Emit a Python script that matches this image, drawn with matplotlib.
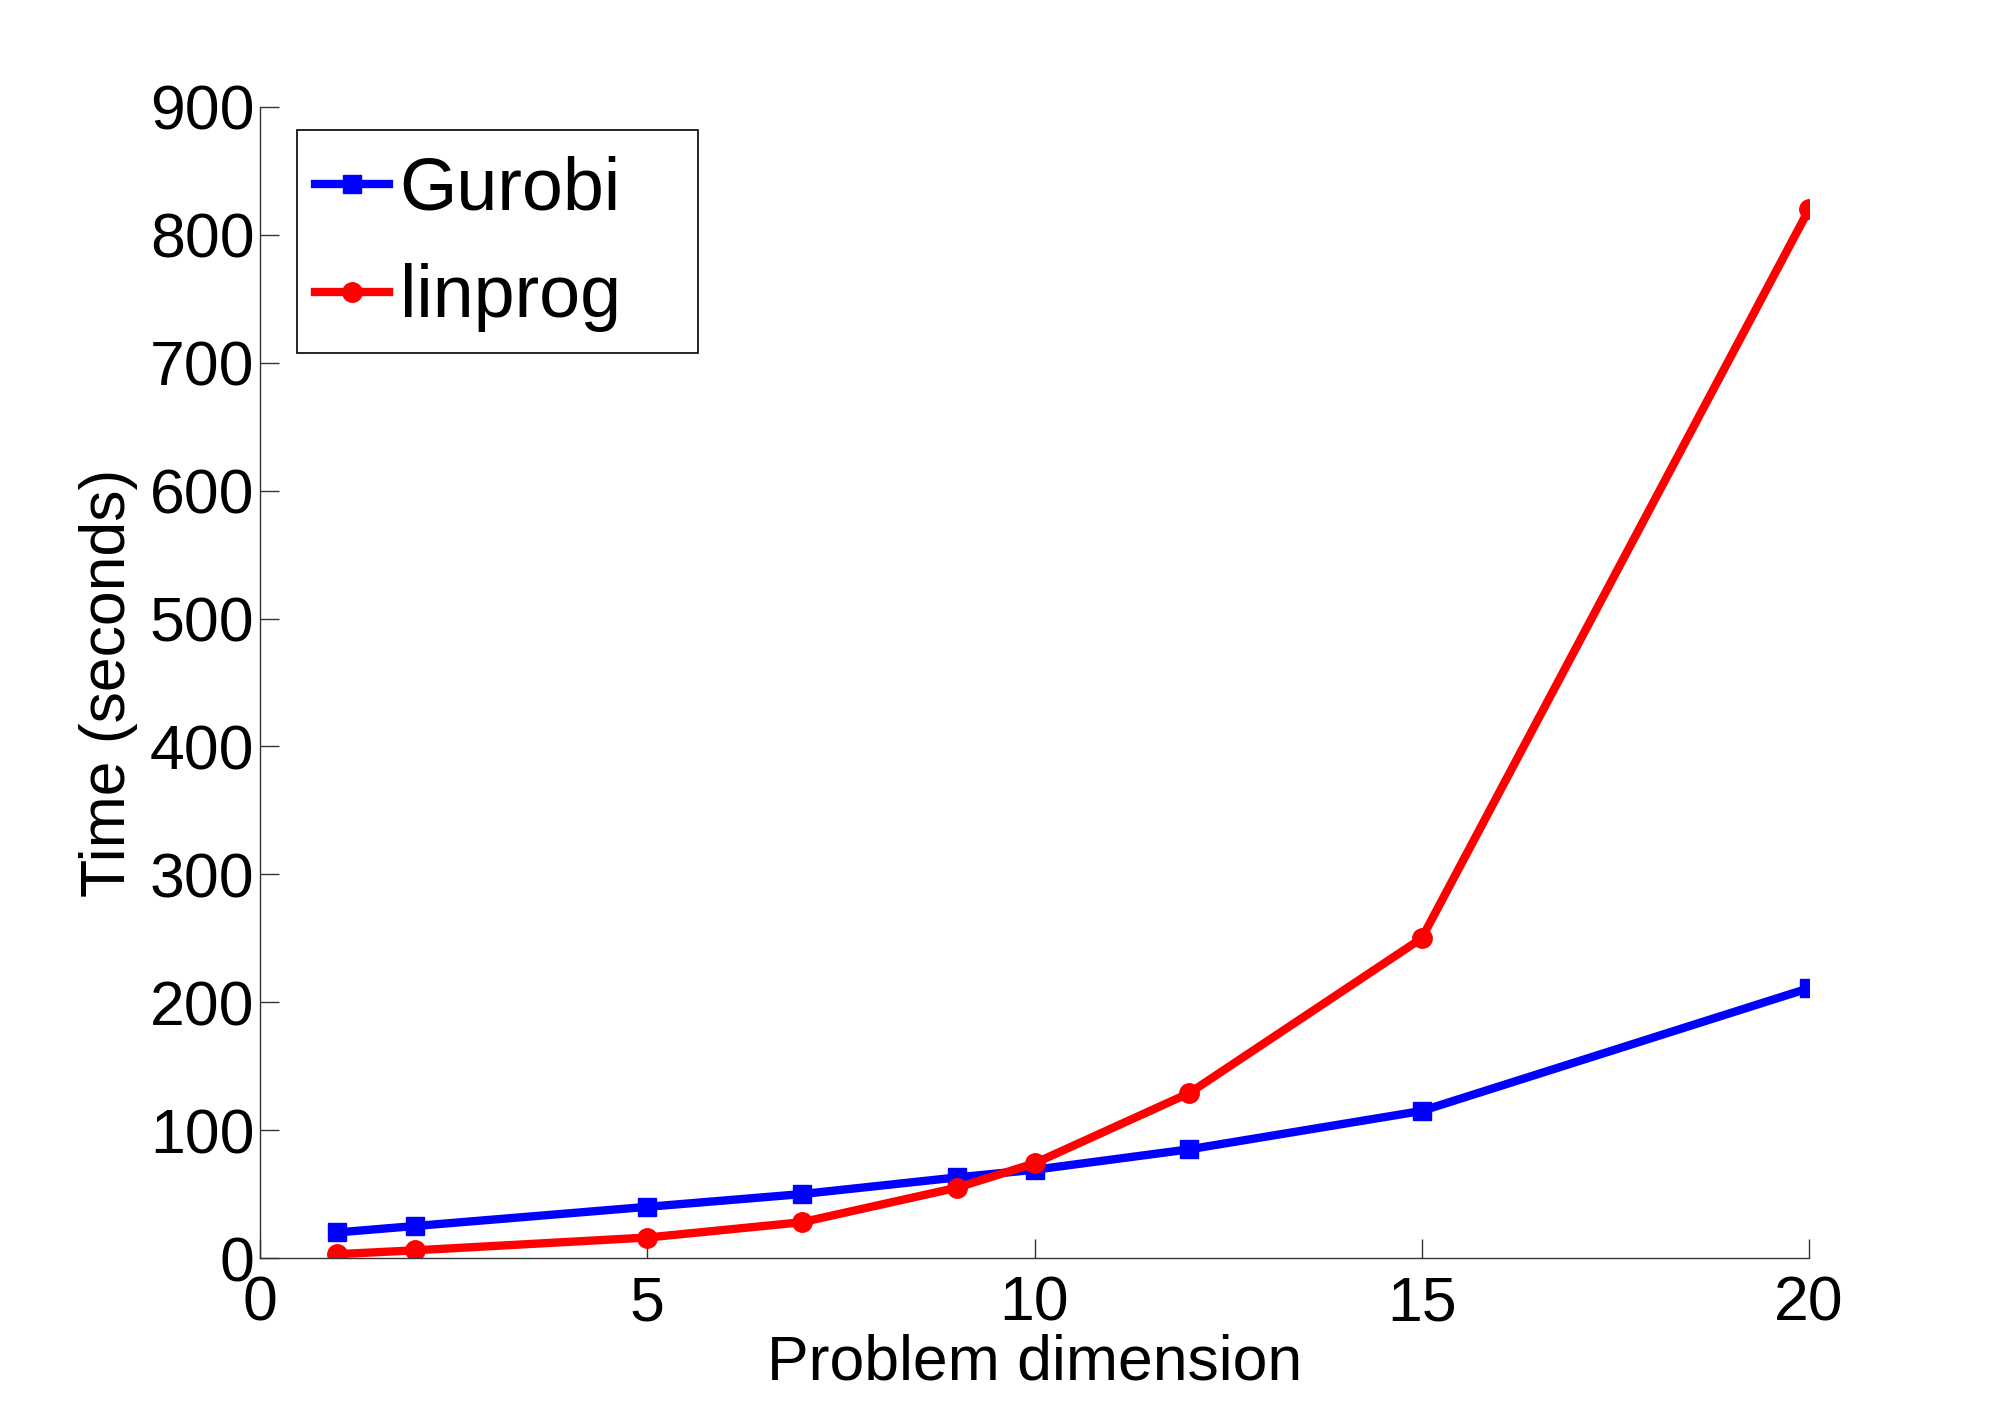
import matplotlib
matplotlib.use('Agg')
import matplotlib.pyplot as plt
from matplotlib.patches import Rectangle

# Problem dimensions and solve times (seconds)
dims = [1, 2, 5, 7, 9, 10, 12, 15, 20]
gurobi = [20, 25, 40, 50, 63, 69, 85, 115, 211]
linprog = [3, 6, 16, 28, 55, 74, 129, 250, 820]

x_ticks = [0, 5, 10, 15, 20]
y_ticks = list(range(0, 1000, 100))

plt.rcParams['font.family'] = ['Liberation Sans', 'DejaVu Sans']

fig = plt.figure(figsize=(20, 14.15), dpi=100)
ax = fig.add_axes([260 / 2000, 1 - 1258 / 1415, (1809 - 260) / 2000, (1258 - 107) / 1415])

ax.plot(dims, gurobi, color='#0000ff', lw=6, marker='s', ms=12.5, label='Gurobi')
ax.plot(dims, linprog, color='#ff0000', lw=6, marker='o', ms=14, label='linprog')

ax.set_xlim(0, 20)
ax.set_ylim(0, 900)
ax.set_xticks(x_ticks)
ax.set_yticks(y_ticks)
ax.tick_params(direction='in', length=14, width=1, labelsize=45, color='#333333')
ax.tick_params(axis='x', pad=12)
ax.tick_params(axis='y', pad=4)

# box off: only left and bottom axis lines
ax.spines['top'].set_visible(False)
ax.spines['right'].set_visible(False)
for s in ['left', 'bottom']:
    ax.spines[s].set_color('#333333')
    ax.spines[s].set_linewidth(1)

ax.set_xlabel('Problem dimension', fontsize=45, labelpad=0)
ax.set_ylabel('Time (seconds)', fontsize=45)
ax.yaxis.set_label_coords(-0.079, 0.5)

# legend entries without frame, frame drawn separately (MATLAB-style wide box)
leg = ax.legend(loc='upper left', bbox_to_anchor=(315 / 2000, 1 - 156 / 1415),
                bbox_transform=fig.transFigure, fontsize=53, frameon=False,
                handlelength=1.0, handletextpad=0.15,
                borderpad=0, labelspacing=0.52, borderaxespad=0)
fig.patches.append(Rectangle((297 / 2000, 1 - 353 / 1415), (698 - 297) / 2000, (353 - 130) / 1415,
                             transform=fig.transFigure, fill=False, edgecolor='black', lw=1.2))

fig.savefig('out.png', dpi=100)
